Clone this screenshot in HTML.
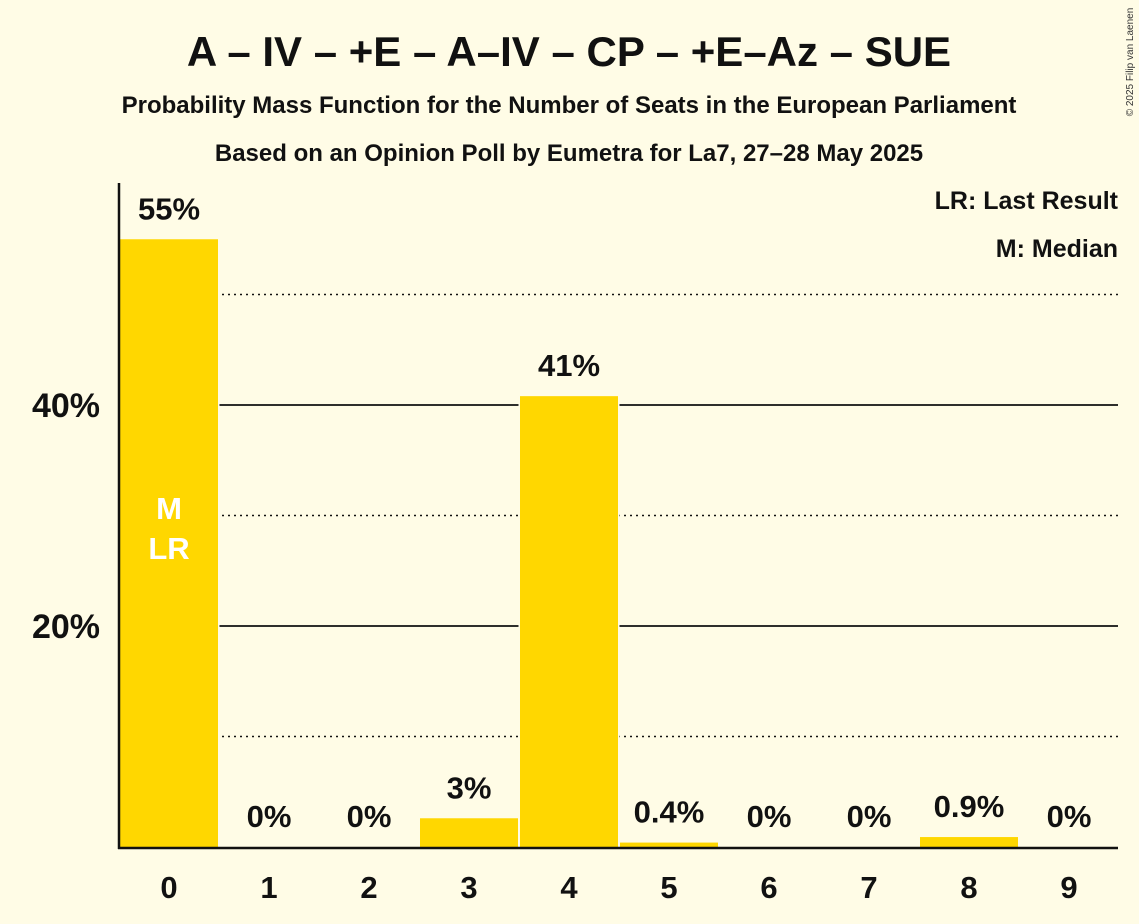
<!DOCTYPE html>
<html><head><meta charset="utf-8"><style>
body{margin:0;background:#FFFCE6;}
svg{display:block;font-family:"Liberation Sans",sans-serif;}
</style></head><body>
<svg id="chart" width="1139" height="924">
<rect width="1139" height="924" fill="#FFFCE6"/>
<text x="569" y="66" text-anchor="middle" font-size="42" font-weight="bold" fill="#111">A – IV – +E – A–IV – CP – +E–Az – SUE</text>
<text x="569" y="113" text-anchor="middle" font-size="24" font-weight="bold" fill="#111">Probability Mass Function for the Number of Seats in the European Parliament</text>
<text x="569" y="161" text-anchor="middle" font-size="24" font-weight="bold" fill="#111">Based on an Opinion Poll by Eumetra for La7, 27–28 May 2025</text>
<text x="1133" y="62" font-size="10" fill="#333" transform="rotate(-90 1133 62)" text-anchor="middle">© 2025 Filip van Laenen</text>
<text x="1118" y="209" text-anchor="end" font-size="25" font-weight="bold" fill="#111">LR: Last Result</text>
<text x="1118" y="257" text-anchor="end" font-size="25" font-weight="bold" fill="#111">M: Median</text>
<g id="grid"></g>
<g id="bars"></g>
<line x1="119" y1="183" x2="119" y2="849" stroke="#111" stroke-width="2.5"/>
<line x1="118" y1="848" x2="1118" y2="848" stroke="#111" stroke-width="2.5"/>
</svg>
<script>
const seats=[0,1,2,3,4,5,6,7,8,9];
const probs=[55,0,0,2.6,40.8,0.4,0,0,0.9,0];
const labels=["55%","0%","0%","3%","41%","0.4%","0%","0%","0.9%","0%"];
const gridVals=[10,20,30,40,50];
const yTicks=[20,40];
const ns="http://www.w3.org/2000/svg";
const y=v=>847-v*11.05;
const x=i=>120+i*100;
const grid=document.getElementById('grid'),bars=document.getElementById('bars');
gridVals.forEach(g=>{
 const l=document.createElementNS(ns,'line');
 
 
 l.setAttribute('x1',120);l.setAttribute('x2',1118);l.setAttribute('y1',y(g));l.setAttribute('y2',y(g));
 l.setAttribute('stroke','#111');
 if(g%20){l.setAttribute('stroke-dasharray','2 4');l.setAttribute('stroke-width','1.5');}else l.setAttribute('stroke-width','1.8');
 grid.appendChild(l);
});
yTicks.forEach(t=>{
 const tx=document.createElementNS(ns,'text');
 
 
 tx.setAttribute('x',100);tx.setAttribute('y',y(t)+12);tx.setAttribute('text-anchor','end');
 tx.setAttribute('font-size','34');tx.setAttribute('font-weight','bold');tx.setAttribute('fill','#111');
 tx.textContent=t+'%';grid.appendChild(tx);
});
seats.forEach((s,i)=>{
 const p=probs[i];
 if(p>0){
  const r=document.createElementNS(ns,'rect');
  
  
  r.setAttribute('x',x(i));r.setAttribute('width',98);r.setAttribute('y',y(p));r.setAttribute('height',847-y(p));
  r.setAttribute('fill','#FFD700');r.setAttribute('stroke','#FFFCE6');r.setAttribute('stroke-width','3');r.setAttribute('paint-order','stroke');
  bars.appendChild(r);
 }
 const t=document.createElementNS(ns,'text');
 
 
 t.setAttribute('x',x(i)+49);t.setAttribute('y',y(p)-20);t.setAttribute('text-anchor','middle');
 t.setAttribute('font-size','31');t.setAttribute('font-weight','bold');t.setAttribute('fill','#111');
 t.textContent=labels[i];bars.appendChild(t);
 const xl=document.createElementNS(ns,'text');
 
 
 xl.setAttribute('x',x(i)+49);xl.setAttribute('y',898);xl.setAttribute('text-anchor','middle');
 xl.setAttribute('font-size','31');xl.setAttribute('font-weight','bold');xl.setAttribute('fill','#111');
 xl.textContent=s;bars.appendChild(xl);
});
[['M',519],['LR',559]].forEach(([s,yy])=>{
 const t=document.createElementNS(ns,'text');
 
 
 t.setAttribute('x',169);t.setAttribute('y',yy);t.setAttribute('text-anchor','middle');
 t.setAttribute('font-size','31');t.setAttribute('font-weight','bold');t.setAttribute('fill','#fff');
 t.textContent=s;bars.appendChild(t);
});
</script>
</body></html>
